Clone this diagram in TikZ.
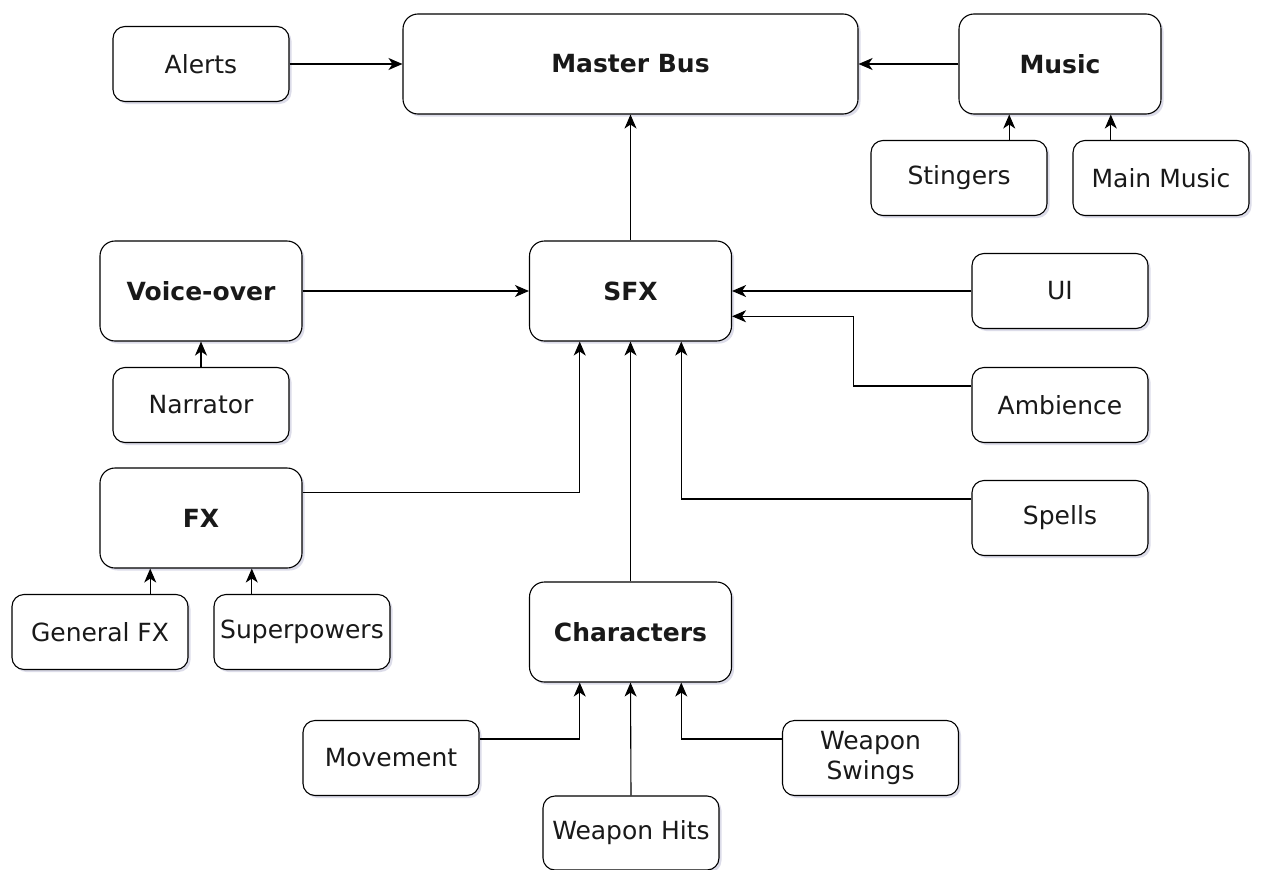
\documentclass[tikz,border=0pt]{standalone}
\usepackage{fontspec}
\setmainfont{DejaVu Sans}
\usetikzlibrary{arrows.meta,calc,shadows}
\begin{document}
\begin{tikzpicture}[x=1pt,y=-1pt,
  box/.style={draw=black, line width=1.1pt, rounded corners=12pt, fill=white, inner sep=0pt,
    align=center, font=\fontsize{25}{30}\selectfont, text=black!90,
    drop shadow={shadow xshift=2.5pt, shadow yshift=-2.5pt, opacity=0.22, fill=blue!25!gray}},
  small/.style={box, minimum width=176pt, minimum height=75pt},
  big/.style={box, minimum width=202pt, minimum height=100pt, rounded corners=15pt, font=\fontsize{25}{30}\selectfont\bfseries},
  arr/.style={draw=black, line width=1.1pt, -{Stealth[length=14pt,width=12pt,inset=4pt]}}
]
\useasboundingbox (0,0) rectangle (1261,870);
\fill[white] (0,0) rectangle (1261,870);

\node[small] (alerts) at (201,64) {Alerts};
\node[big, minimum width=455pt] (master) at (630.5,64) {Master Bus};
\node[big] (music) at (1060,64) {Music};
\node[small] (sting) at (959,178) {Stingers};
\node[small] (mainm) at (1161,178) {Main Music};
\node[big] (vo) at (201,291) {Voice-over};
\node[big] (sfx) at (630.5,291) {SFX};
\node[small] (ui) at (1060,291) {UI};
\node[small] (narr) at (201,405) {Narrator};
\node[small] (amb) at (1060,405) {Ambience};
\node[big] (fx) at (201,518) {FX};
\node[small] (spells) at (1060,518) {Spells};
\node[small] (genfx) at (100,632) {General FX};
\node[small] (super) at (302,632) {Superpowers};
\node[big] (chars) at (630.5,632) {Characters};
\node[small] (move) at (391,758) {Movement};
\node[small] (swing) at (870.5,758) {Weapon\\Swings};
\node[small, minimum height=74pt] (hits) at (631,833) {Weapon Hits};

% helper anchor points
\coordinate (mu1) at ($(music.south west)!0.25!(music.south east)$);
\coordinate (mu3) at ($(music.south west)!0.75!(music.south east)$);
\coordinate (fxb1) at ($(fx.south west)!0.25!(fx.south east)$);
\coordinate (fxb3) at ($(fx.south west)!0.75!(fx.south east)$);
\coordinate (sb1) at ($(sfx.south west)!0.25!(sfx.south east)$);
\coordinate (sb3) at ($(sfx.south west)!0.75!(sfx.south east)$);
\coordinate (se3) at ($(sfx.north east)!0.75!(sfx.south east)$);
\coordinate (cb1) at ($(chars.south west)!0.25!(chars.south east)$);
\coordinate (cb3) at ($(chars.south west)!0.75!(chars.south east)$);
\coordinate (amb1) at ($(amb.north west)!0.25!(amb.south west)$);
\coordinate (sp1) at ($(spells.north west)!0.25!(spells.south west)$);
\coordinate (fx1) at ($(fx.north east)!0.25!(fx.south east)$);
\coordinate (mv1) at ($(move.north east)!0.25!(move.south east)$);
\coordinate (ws1) at ($(swing.north west)!0.25!(swing.south west)$);
\coordinate (ambx) at ($(se3)+(121,0)$);

\draw[arr] (alerts.east) -- (alerts.east -| master.west);
\draw[arr] (music.west) -- (music.west -| master.east);
\draw[arr] (sfx.north) -- (master.south);
\draw[arr] (mu1 |- sting.north) -- (mu1);
\draw[arr] (mu3 |- mainm.north) -- (mu3);
\draw[arr] (vo.east) -- (sfx.west);
\draw[arr] (narr.north) -- (vo.south);
\draw[arr] (ui.west) -- (ui.west -| sfx.east);
\draw[arr] (amb1) -| (ambx) -- (se3);
\draw[arr] (sp1) -| (sb3);
\draw[arr] (fx1) -| (sb1);
\draw[arr] (chars.north) -- (sfx.south);
\draw[arr] (fxb1 |- genfx.north) -- (fxb1);
\draw[arr] (fxb3 |- super.north) -- (fxb3);
\draw[arr] (mv1) -| (cb1);
\draw[arr] (hits.north) -- (chars.south);
\draw[arr] (ws1) -| (cb3);
\end{tikzpicture}
\end{document}
